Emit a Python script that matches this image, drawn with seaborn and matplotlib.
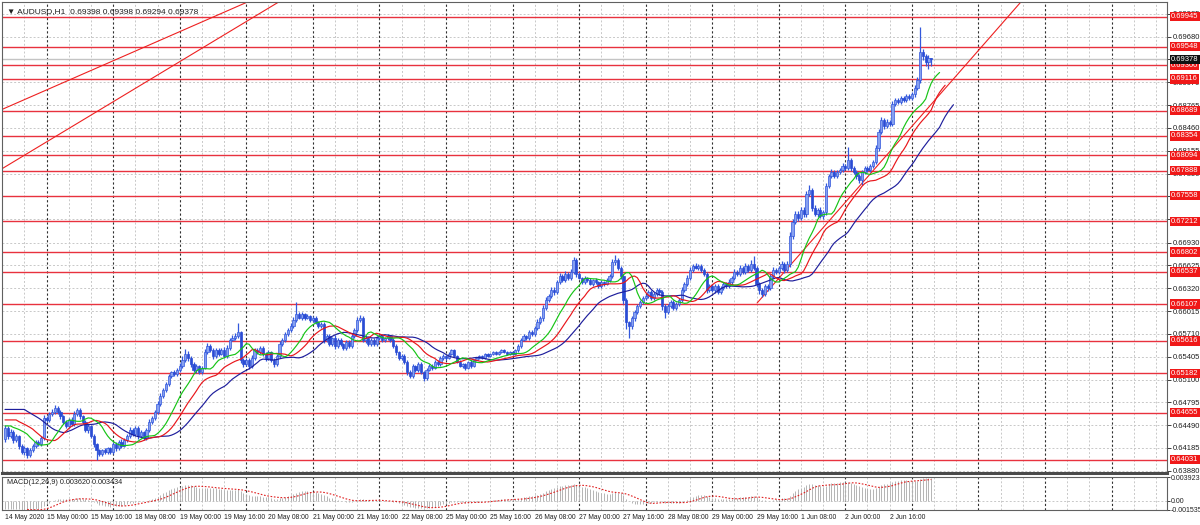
import numpy as np
import pandas as pd
import matplotlib
matplotlib.use("Agg")
import matplotlib.pyplot as plt
import seaborn as sns

sns.set_style("white")
plt.rcParams["font.family"] = ["Liberation Sans", "DejaVu Sans"]

# H1 bars, first day from 09:00, last day up to 07:00
days = ["2020-05-14", "2020-05-15", "2020-05-18", "2020-05-19", "2020-05-20",
        "2020-05-21", "2020-05-22", "2020-05-25", "2020-05-26", "2020-05-27",
        "2020-05-28", "2020-05-29", "2020-06-01", "2020-06-02", "2020-06-03"]

open_first = 64300  # points (1e-5)

# closes in points
close_0514 = [64452, 64345, 64398, 64292, 64345, 64212, 64131, 64185, 64091, 64158, 64212, 64265, 64238, 64318, 64585]
close_0515 = [64559, 64639, 64666, 64719, 64666, 64612, 64532, 64478, 64559, 64505, 64639, 64692, 64612, 64532, 64425, 64478, 64345, 64238, 64158, 64105, 64158, 64131, 64185, 64131]
close_0518 = [64238, 64185, 64265, 64212, 64292, 64345, 64425, 64372, 64452, 64345, 64398, 64318, 64425, 64532, 64585, 64666, 64773, 64879, 64960, 65040, 65147, 65200, 65173, 65227]
close_0519 = [65280, 65360, 65441, 65387, 65307, 65227, 65280, 65200, 65254, 65467, 65547, 65494, 65414, 65494, 65441, 65494, 65414, 65521, 65628, 65654, 65681, 65734, 65360, 65307]
close_0520 = [65360, 65280, 65387, 65494, 65467, 65521, 65441, 65387, 65467, 65360, 65307, 65414, 65574, 65628, 65708, 65761, 65815, 65895, 65975, 65922, 65975, 65922, 65948, 65895]
close_0521 = [65922, 65868, 65815, 65841, 65628, 65681, 65574, 65654, 65547, 65628, 65574, 65521, 65601, 65547, 65681, 65761, 65895, 65922, 65628, 65654, 65574, 65628, 65574, 65654]
close_0522 = [65681, 65628, 65654, 65681, 65628, 65547, 65467, 65387, 65414, 65334, 65200, 65147, 65280, 65227, 65307, 65200, 65120, 65227, 65280, 65254, 65334, 65307, 65387, 65414]
close_0525 = [65387, 65441, 65494, 65414, 65334, 65280, 65307, 65254, 65334, 65280, 65360, 65387, 65414, 65387, 65441, 65414, 65441, 65467, 65441, 65467, 65494, 65467, 65441, 65467]
close_0526 = [65441, 65494, 65547, 65628, 65681, 65654, 65734, 65708, 65788, 65868, 65922, 66055, 66162, 66215, 66296, 66269, 66402, 66483, 66429, 66509, 66456, 66536, 66696, 66509]
close_0527 = [66456, 66402, 66456, 66429, 66376, 66429, 66402, 66349, 66402, 66376, 66429, 66483, 66670, 66696, 66590, 66483, 66162, 65868, 65815, 65922, 66002, 66082, 66135, 66189]
close_0528 = [66215, 66269, 66189, 66242, 66296, 66269, 66082, 66002, 66082, 66135, 66055, 66109, 66162, 66296, 66376, 66456, 66563, 66616, 66590, 66616, 66563, 66509, 66296, 66349]
close_0529 = [66296, 66349, 66269, 66322, 66376, 66349, 66402, 66456, 66536, 66509, 66590, 66536, 66616, 66563, 66643, 66590, 66376, 66296, 66242, 66349, 66322, 66483, 66563, 66536]
close_0601 = [66590, 66643, 66563, 66643, 67017, 67204, 67311, 67258, 67364, 67311, 67578, 67632, 67391, 67311, 67364, 67284, 67338, 67685, 67819, 67872, 67819, 67872, 67899, 67952]
close_0602 = [67926, 68032, 67926, 67872, 67819, 67765, 67872, 67926, 67899, 67952, 68006, 68193, 68406, 68567, 68487, 68540, 68513, 68781, 68834, 68807, 68861, 68834, 68887, 68861]
close_0603 = [68914, 68994, 69101, 69475, 69422, 69342, 69398, 69378]

# upper / lower wick lengths above / below the body, points
up_0514 = [40, 30, 35, 25, 30, 20, 25, 30, 20, 25, 20, 30, 25, 30, 35]
lo_0514 = [30, 35, 30, 40, 30, 35, 30, 40, 45, 25, 30, 25, 30, 20, 25]
up_0515 = [30, 25, 40, 35, 30, 25, 20, 30, 25, 35, 40, 30, 25, 20, 25, 30, 20, 25, 20, 15, 20, 25, 15, 20]
lo_0515 = [25, 30, 20, 25, 30, 35, 30, 25, 30, 20, 25, 30, 35, 30, 25, 35, 30, 40, 130, 30, 25, 20, 25, 20]
up_0518 = [30, 25, 30, 35, 25, 30, 40, 30, 25, 30, 25, 20, 30, 35, 30, 25, 35, 40, 30, 25, 30, 20, 25, 30]
lo_0518 = [30, 40, 25, 30, 20, 25, 30, 25, 30, 35, 20, 25, 20, 30, 25, 20, 30, 25, 20, 30, 25, 30, 20, 25]
up_0519 = [40, 50, 60, 35, 30, 25, 30, 20, 30, 40, 35, 30, 25, 30, 25, 30, 40, 35, 30, 40, 35, 120, 20, 25]
lo_0519 = [30, 25, 30, 35, 40, 30, 35, 25, 30, 20, 25, 30, 35, 25, 30, 20, 25, 30, 25, 20, 30, 25, 40, 35]
up_0520 = [30, 25, 35, 30, 25, 30, 20, 25, 30, 20, 25, 30, 35, 30, 25, 30, 35, 40, 160, 25, 30, 20, 25, 20]
lo_0520 = [30, 35, 25, 30, 20, 25, 30, 35, 25, 30, 45, 30, 25, 20, 25, 30, 20, 25, 30, 20, 25, 30, 20, 25]
up_0521 = [25, 30, 20, 25, 30, 25, 30, 20, 35, 25, 30, 20, 25, 30, 35, 30, 40, 45, 25, 30, 25, 20, 25, 30]
lo_0521 = [25, 20, 30, 25, 40, 30, 25, 30, 35, 30, 25, 30, 25, 30, 20, 25, 30, 25, 30, 35, 25, 30, 25, 20]
up_0522 = [25, 30, 20, 25, 20, 25, 30, 20, 25, 30, 20, 25, 30, 20, 25, 30, 20, 25, 30, 25, 20, 25, 30, 25]
lo_0522 = [20, 25, 30, 20, 25, 30, 35, 30, 25, 30, 35, 30, 25, 30, 25, 30, 40, 25, 20, 25, 20, 25, 20, 25]
up_0525 = [20, 25, 15, 20, 15, 20, 15, 20, 15, 20, 15, 10, 15, 10, 15, 10, 15, 10, 15, 10, 15, 10, 15, 10]
lo_0525 = [20, 15, 20, 15, 20, 15, 20, 25, 15, 20, 15, 10, 15, 10, 15, 10, 15, 10, 15, 10, 15, 10, 15, 10]
up_0526 = [15, 20, 25, 20, 25, 20, 30, 25, 30, 35, 30, 40, 35, 30, 40, 35, 30, 35, 30, 35, 30, 40, 40, 30]
lo_0526 = [20, 15, 20, 25, 20, 25, 20, 25, 30, 25, 30, 35, 30, 25, 30, 35, 30, 25, 30, 25, 30, 25, 30, 35]
up_0527 = [25, 20, 25, 20, 25, 20, 25, 20, 25, 20, 25, 30, 45, 70, 30, 25, 30, 25, 20, 25, 30, 25, 30, 25]
lo_0527 = [20, 25, 20, 25, 20, 25, 20, 25, 20, 25, 20, 25, 30, 35, 30, 40, 60, 100, 160, 40, 35, 30, 25, 30]
up_0528 = [25, 30, 25, 30, 25, 30, 20, 25, 30, 25, 30, 25, 30, 35, 30, 35, 40, 30, 35, 30, 25, 30, 25, 30]
lo_0528 = [25, 20, 25, 30, 25, 40, 60, 80, 30, 25, 30, 25, 30, 25, 30, 25, 30, 25, 20, 25, 30, 25, 40, 30]
up_0529 = [25, 30, 25, 30, 25, 30, 35, 30, 35, 30, 35, 30, 35, 30, 60, 110, 25, 30, 25, 30, 25, 30, 35, 30]
lo_0529 = [30, 35, 30, 25, 30, 25, 30, 25, 30, 25, 30, 25, 30, 25, 30, 25, 40, 50, 40, 30, 35, 25, 30, 25]
up_0601 = [30, 35, 30, 40, 50, 40, 35, 40, 35, 40, 40, 70, 30, 35, 30, 35, 30, 40, 30, 35, 30, 25, 30, 35]
lo_0601 = [25, 30, 35, 30, 40, 35, 30, 35, 30, 35, 40, 30, 45, 30, 35, 30, 40, 35, 30, 25, 30, 25, 30, 25]
up_0602 = [30, 170, 30, 25, 30, 25, 30, 25, 30, 25, 30, 40, 35, 40, 30, 35, 30, 40, 30, 25, 30, 25, 30, 25]
lo_0602 = [30, 25, 35, 30, 35, 40, 60, 30, 25, 30, 25, 30, 35, 30, 35, 30, 25, 30, 25, 30, 25, 30, 25, 30]
up_0603 = [30, 35, 40, 334, 40, 30, 35, 0]
lo_0603 = [30, 35, 30, 45, 50, 60, 100, 84]

# horizontal levels drawn on the chart
levels = [0.69945, 0.69548, 0.69300, 0.69116, 0.68689, 0.68354, 0.68094, 0.67888,
          0.67558, 0.67212, 0.66802, 0.66537, 0.66107, 0.65616, 0.65182, 0.64655, 0.64031]
last_price = 0.69378

# trend lines (bar index, price)
trend_a = [(-0.7, 0.68714), (89.1, 0.70170)]
trend_b = [(28.1, 0.68567), (99.9, 0.70170)]
trend_c = [(271.2, 0.66122), (358.1, 0.69796)]

# indicator values at the left edge of the chart
jaw_start, teeth_start, lips_start = 0.6470, 0.6456, 0.6448
ema12_start, ema26_start = 0.6452, 0.6466

time_labels = ["14 May 2020", "15 May 00:00", "15 May 16:00", "18 May 08:00", "19 May 00:00",
               "19 May 16:00", "20 May 08:00", "21 May 00:00", "21 May 16:00", "22 May 08:00",
               "25 May 00:00", "25 May 16:00", "26 May 08:00", "27 May 00:00", "27 May 16:00",
               "28 May 08:00", "29 May 00:00", "29 May 16:00", "1 Jun 08:00", "2 Jun 00:00",
               "2 Jun 16:00"]

price_ticks = [0.63880, 0.64185, 0.64490, 0.64795, 0.65100, 0.65405, 0.65710, 0.66015, 0.66320,
               0.66625, 0.66930, 0.67240, 0.67545, 0.67850, 0.68155, 0.68460, 0.68765, 0.69070,
               0.69375, 0.69680, 0.69985]

macd_max, macd_min = 0.003923, -0.001535

# ---------------------------------------------------------------------
close_days = [close_0514, close_0515, close_0518, close_0519, close_0520, close_0521, close_0522,
              close_0525, close_0526, close_0527, close_0528, close_0529, close_0601, close_0602, close_0603]
up_days = [up_0514, up_0515, up_0518, up_0519, up_0520, up_0521, up_0522,
           up_0525, up_0526, up_0527, up_0528, up_0529, up_0601, up_0602, up_0603]
lo_days = [lo_0514, lo_0515, lo_0518, lo_0519, lo_0520, lo_0521, lo_0522,
           lo_0525, lo_0526, lo_0527, lo_0528, lo_0529, lo_0601, lo_0602, lo_0603]

times = []
for k, d in enumerate(days):
    start = 9 if k == 0 else 0
    stop = 8 if k == len(days) - 1 else 24
    if not (len(close_days[k]) == len(up_days[k]) == len(lo_days[k]) == stop - start):
        raise ValueError(f"bad length for {d}")
    times += list(pd.date_range(f"{d} {start:02d}:00", periods=stop - start, freq="h"))
times = pd.DatetimeIndex(times)

close = np.concatenate(close_days) / 1e5
opn = np.r_[open_first / 1e5, close[:-1]]
high = np.maximum(opn, close) + np.concatenate(up_days) / 1e5
low = np.minimum(opn, close) - np.concatenate(lo_days) / 1e5
n = len(close)
df = pd.DataFrame({"bar": np.arange(n), "open": opn, "high": high, "low": low, "close": close}, index=times)

x_right = 419.0
future = np.arange(n, int(x_right) + 1)
hours_all = np.r_[times.hour, (times[-1].hour + 1 + np.arange(len(future))) % 24]
bars_all = np.r_[df["bar"].values, future]
sep_bars = bars_all[hours_all == 0]
grid_bars = bars_all[(hours_all % 8 == 0) & (hours_all != 0)]


def smma(values, period, seed):
    out, s = [], seed
    for v in values:
        s = (s * (period - 1) + v) / period
        out.append(s)
    return np.array(out)


median = (df["high"] + df["low"]).values / 2
gator = []
for name, period, shift, seed, col in [("jaw", 13, 8, jaw_start, "#1e1e9c"),
                                        ("teeth", 8, 5, teeth_start, "#e8161b"),
                                        ("lips", 5, 3, lips_start, "#16c416")]:
    vals = np.r_[[seed] * shift, smma(median, period, seed)]
    gator.append(pd.DataFrame({"bar": np.arange(len(vals)), "value": vals, "line": name, "color": col}))

ema12 = pd.Series(np.r_[ema12_start, close]).ewm(span=12, adjust=False).mean().values[1:]
ema26 = pd.Series(np.r_[ema26_start, close]).ewm(span=26, adjust=False).mean().values[1:]
macd = ema12 - ema26
signal = pd.Series(macd).rolling(9).mean().values

# ---------------------------------------------------------------------
W, H = 1200, 525
fig = plt.figure(figsize=(W / 100, H / 100), dpi=100)
fig.patch.set_facecolor("white")
left, right = 2, 1167
ax = fig.add_axes([left / W, 1 - 473 / H, (right - left) / W, 471 / H])
ax2 = fig.add_axes([left / W, 1 - 510 / H, (right - left) / W, 33 / H])

grid_kw = dict(color="#c8c8c8", lw=0.7, dashes=(2, 2))
sep_kw = dict(color="#303030", lw=0.8, dashes=(2, 2))
for a in (ax, ax2):
    a.set_facecolor("white")
    a.set_xlim(-1.08, x_right)
    for b in grid_bars:
        a.axvline(b, zorder=0, **grid_kw)
    for b in sep_bars:
        a.axvline(b, zorder=0.5, **sep_kw)
    for s in a.spines.values():
        s.set_color("#606060")
        s.set_linewidth(0.8)

ax.set_ylim(0.63851, 0.70143)
for t in price_ticks:
    ax.axhline(t, zorder=0, **grid_kw)

# candles
bull = df["close"] >= df["open"]
ax.vlines(df["bar"], df["low"], df["high"], color="#3358dc", lw=0.9, zorder=3)
ax.bar(df["bar"][bull], (df["close"] - df["open"])[bull], bottom=df["open"][bull], width=0.8,
       color="#86a0f0", edgecolor="#3358dc", lw=0.5, zorder=4)
ax.bar(df["bar"][~bull], (df["close"] - df["open"])[~bull], bottom=df["open"][~bull], width=0.8,
       color="#2a4cd4", edgecolor="#2a4cd4", lw=0.5, zorder=4)

for g in gator:
    sns.lineplot(data=g, x="bar", y="value", ax=ax, color=g["color"].iloc[0], lw=0.85,
                 estimator=None, sort=False, legend=False, zorder=5)

# levels
for lvl in levels:
    ax.axhline(lvl, color="#e8323e", lw=1.0, zorder=2)
ax.axhline(last_price, color="#c4c4c4", lw=1.0, zorder=1.5)

# trend lines
for (x1, y1), (x2, y2) in [trend_a, trend_b]:
    ax.axline((x1, y1), (x2, y2), color="#ee2020", lw=0.8, zorder=2.5)
(x1, y1), (x2, y2) = trend_c
slope = (y2 - y1) / (x2 - x1)
ax.plot([x1, x_right], [y1, y1 + slope * (x_right - x1)], color="#ee2020", lw=0.8, zorder=2.5)

# right price scale
ax.yaxis.tick_right()
ax.set_yticks(price_ticks)
ax.set_yticklabels([f"{t:.5f}" for t in price_ticks])
ax.tick_params(axis="y", labelsize=5.5, length=3, pad=1, colors="#202020", width=0.6)
ax.set_xticks([])
ax.set_xlabel("")
ax.set_ylabel("")
ax.spines["bottom"].set_linewidth(2.2)
ax.spines["bottom"].set_color("#4a4a4a")

yt = ax.get_yaxis_transform()
for lvl in levels:
    ax.text(1.0035, lvl, f"{lvl:.5f}", transform=yt, fontsize=5.5, color="white", va="center",
            ha="left", zorder=10, clip_on=False,
            bbox=dict(boxstyle="square,pad=0.15", fc="#f01818", ec="none"))
ax.text(1.0035, last_price, f"{last_price:.5f}", transform=yt, fontsize=5.5, color="white",
        va="center", ha="left", zorder=11, clip_on=False,
        bbox=dict(boxstyle="square,pad=0.15", fc="#101010", ec="none"))

ax.text(0.004, 0.988, "\u25bc AUDUSD,H1  0.69398 0.69398 0.69294 0.69378", transform=ax.transAxes,
        fontsize=6, color="#202020", va="top", ha="left", zorder=12,
        family=["Liberation Sans", "DejaVu Sans"])

# MACD
ax2.set_ylim(macd_min, macd_max)
ax2.axhline(0, zorder=0, **grid_kw)
ax2.vlines(df["bar"], 0, macd, color="#b4b4b4", lw=0.7, zorder=2)
sns.lineplot(x=df["bar"].values, y=signal, ax=ax2, color="#e02020", lw=0.8, dashes=False,
             legend=False, zorder=3)
ax2.lines[-1].set_dashes((1.5, 1.5))
ax2.text(0.004, 0.93, "MACD(12,26,9) 0.003620 0.003434", transform=ax2.transAxes,
         fontsize=5.2, color="#202020", va="top", ha="left")
ax2.yaxis.tick_right()
ax2.set_yticks([macd_max, 0.0, macd_min])
ax2.set_yticklabels(["0.003923", "0.00", "-0.001535"])
ax2.tick_params(axis="y", labelsize=5.0, length=2, pad=0.5, colors="#202020", width=0.6)
ax2.set_ylabel("")

tick_pos = [0]
for lbl in time_labels[1:]:
    ts = pd.to_datetime(f"{lbl[:-6]} 2020 {lbl[-5:]}", format="%d %b %Y %H:%M")
    tick_pos.append(df.loc[ts, "bar"])
ax2.set_xticks(tick_pos)
ax2.set_xticklabels(time_labels, fontsize=4.9, color="#202020")
for t in ax2.get_xticklabels():
    t.set_ha("left")
ax2.tick_params(axis="x", length=2, pad=1, width=0.6)
ax2.set_xlabel("")

fig.savefig("out.png", dpi=100, facecolor="white")
